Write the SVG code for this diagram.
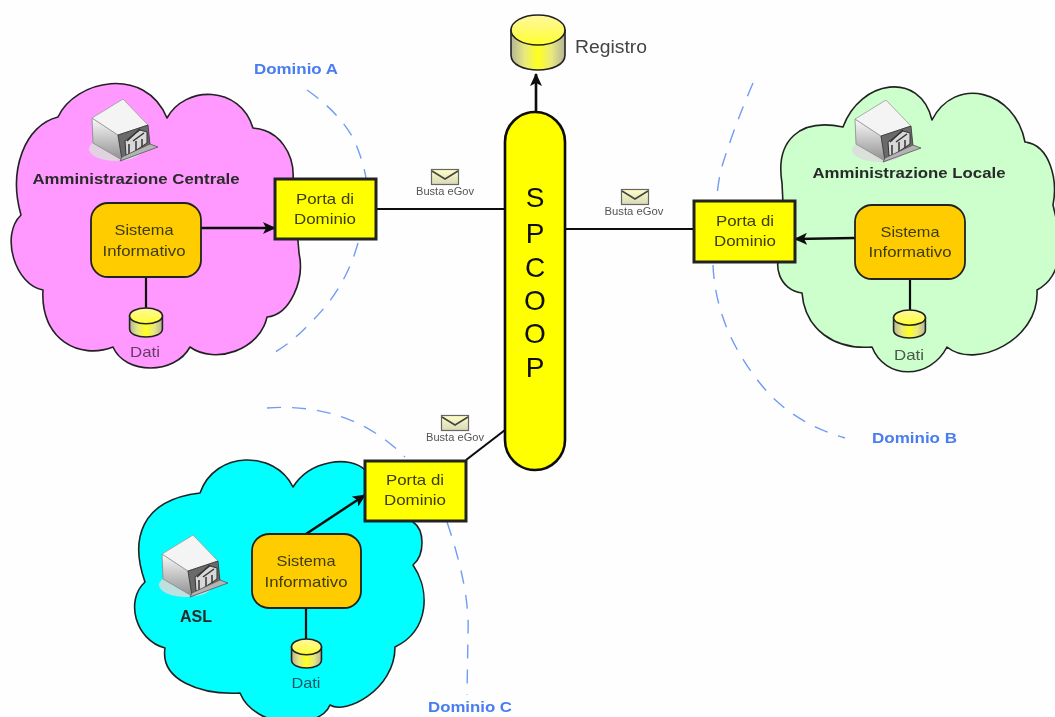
<svg xmlns="http://www.w3.org/2000/svg" width="1055" height="717" viewBox="0 0 1055 717">
<style>
.cloud{stroke:#222;stroke-width:1.6;stroke-linejoin:round}
.porta{fill:#ff0;stroke:#222;stroke-width:3}
.si{fill:#fc0;stroke:#222;stroke-width:1.8}
.conn{fill:none;stroke:#111;stroke-width:2.6}
.thin{fill:none;stroke:#111;stroke-width:2.2}
.dash{fill:none;stroke:#6f9cf5;stroke-width:1.4;stroke-dasharray:14 11}
text{font-family:"Liberation Sans",Arial,sans-serif}
.lab{font-size:15px;fill:#3c3c10;text-anchor:middle}
.bold{font-size:15px;font-weight:bold;fill:#2a2a2a;text-anchor:middle}
.dom{font-size:14.5px;font-weight:bold;fill:#4a7df0}
.busta{font-size:10px;fill:#555;text-anchor:middle}
.dati{font-size:15px;text-anchor:middle}
.soft{filter:url(#soft)}
</style>
<defs>
<filter id="soft" x="-5%" y="-5%" width="110%" height="110%"><feGaussianBlur stdDeviation="0.5"/></filter>
<marker id="arrow" markerUnits="userSpaceOnUse" markerWidth="14" markerHeight="12" refX="12" refY="6" orient="auto"><path d="M0,0 L13,6 L0,12 L3,6 Z" fill="#111"/></marker>
<linearGradient id="cylTop" x1="0" y1="0" x2="0" y2="1"><stop offset="0" stop-color="#fff7a0"/><stop offset="1" stop-color="#ffff30"/></linearGradient>
<linearGradient id="cylSide" x1="0" y1="0" x2="1" y2="0"><stop offset="0" stop-color="#b4b498"/><stop offset=".25" stop-color="#e8e880"/><stop offset=".5" stop-color="#ffff20"/><stop offset=".75" stop-color="#e8e880"/><stop offset="1" stop-color="#b4b498"/></linearGradient>
<linearGradient id="srvLeft" x1="0" y1="0" x2="0" y2="1"><stop offset="0" stop-color="#fafafa"/><stop offset="1" stop-color="#909090"/></linearGradient>
<linearGradient id="env" x1="0" y1="0" x2="0" y2="1"><stop offset="0" stop-color="#ffffc8"/><stop offset="1" stop-color="#d8d8b8"/></linearGradient>
<symbol id="cyl" viewBox="0 0 56 55" preserveAspectRatio="none" overflow="visible">
<path d="M1,15 V40 C1,60 55,60 55,40 V15 Z" fill="url(#cylSide)" stroke="#222" stroke-width="1.6" vector-effect="non-scaling-stroke"/>
<ellipse cx="28" cy="15" rx="27" ry="15" fill="url(#cylTop)" stroke="#222" stroke-width="1.6" vector-effect="non-scaling-stroke"/>
</symbol>
<g id="server">
<ellipse cx="24" cy="50" rx="27" ry="12" fill="#dcdcdc" opacity=".85"/>
<path d="M0,19 L26,36 L30,61 L1,44 Z" fill="url(#srvLeft)" stroke="#888" stroke-width=".8"/>
<path d="M31,0 L0,19 L26,36 L56,26 Z" fill="#f4f4f4" stroke="#999" stroke-width=".8"/>
<path d="M26,36 L56,26 L58,46 L30,61 Z" fill="#6a6a6a" stroke="#333" stroke-width=".8"/>
<path d="M33,42 L48,31 L55,33 L55,44 L40,54 L34,56 Z" fill="#d8d8d8" stroke="#333" stroke-width="1"/>
<path d="M35,42 L48,30 M41,42 L52,34 M37,45 V57 M44,42 V52 M50,40 V48" fill="none" stroke="#333" stroke-width="1.5"/>
<path d="M28,62 L66,48 L58,45 L30,58 Z" fill="#b4b4b4" stroke="#555" stroke-width=".8"/>
</g>
<g id="envelope">
<rect x=".5" y=".5" width="27" height="15" fill="url(#env)" stroke="#666" stroke-width="1.2"/>
<path d="M1,2 L14,10 L27,2" fill="none" stroke="#444" stroke-width="1.5"/>
</g>
</defs>
<rect id="background" width="1055" height="717" fill="#fefefe"/>
<g class="soft">
<g id="domain-arcs">
<path class="dash" d="M307,90 Q340,113 354,140 Q363,160 366,178"/>
<path class="dash" d="M358,243 Q345,290 310,323 Q292,343 270,355"/>
<path class="dash" d="M753,83 Q735,125 723,163 Q718,180 717,197"/>
<path class="dash" d="M713,265 Q716,335 770,395 Q800,425 845,438"/>
<path class="dash" d="M267,408 Q350,402 405,457"/>
<path class="dash" d="M447,522 Q470,590 468,633 L467,695"/>
</g>
<g id="cloud-a"><path class="cloud" fill="#ff99ff" d="M21,215 C8,170 25,125 58,117 C75,80 145,65 167,118 C185,85 240,85 253,128 C280,130 295,155 293,180 L299,253 C305,280 290,315 267,317 C260,350 215,365 190,347 C175,375 125,375 113,347 C80,360 40,340 43,290 C15,285 0,235 21,215 Z"/></g>
<g id="cloud-b"><path class="cloud" fill="#ccffcc" d="M782,183 C775,140 800,118 843,127 C860,80 920,70 932,120 C955,75 1015,90 1025,142 C1050,145 1058,180 1053,205 C1062,240 1065,275 1037,290 C1040,340 975,370 947,347 C930,380 885,380 872,347 C835,350 805,330 802,293 C780,290 770,265 785,245 Z"/></g>
<g id="cloud-c"><path class="cloud" fill="#00ffff" d="M145,582 C130,540 140,500 200,493 C215,450 275,450 293,487 C310,460 350,455 365,470 L413,522 C425,530 425,555 413,565 C430,590 430,630 395,647 C395,690 345,715 330,705 C320,730 255,730 240,693 C200,695 160,680 165,648 C135,640 125,600 145,582 Z"/></g>
<g id="connectors">
<line class="conn" x1="201" y1="228" x2="275" y2="228" marker-end="url(#arrow)"/>
<line class="thin" x1="146" y1="277" x2="146" y2="309"/>
<line class="thin" x1="376" y1="209" x2="505" y2="209"/>
<line class="conn" x1="536" y1="112" x2="536" y2="74" marker-end="url(#arrow)"/>
<line class="thin" x1="565" y1="229" x2="694" y2="229"/>
<line class="conn" x1="855" y1="238" x2="795" y2="239" marker-end="url(#arrow)"/>
<line class="thin" x1="910" y1="279" x2="910" y2="311"/>
<line class="thin" x1="466" y1="460" x2="505" y2="430"/>
<line class="conn" x1="306" y1="534" x2="365" y2="495" marker-end="url(#arrow)"/>
<line class="thin" x1="306" y1="608" x2="306" y2="640"/>
</g>
<g id="server-a"><use href="#server" x="92" y="99"/></g>
<g id="server-b"><use href="#server" x="855" y="100"/></g>
<g id="server-c"><use href="#server" x="162" y="535"/></g>
<g id="sistema-a"><rect class="si" x="91" y="203" width="110" height="74" rx="17"/></g>
<g id="sistema-b"><rect class="si" x="855" y="205" width="110" height="74" rx="17"/></g>
<g id="sistema-c"><rect class="si" x="252" y="534" width="109" height="74" rx="17"/></g>
<g id="porta-a"><rect class="porta" x="275" y="179" width="101" height="60"/></g>
<g id="porta-b"><rect class="porta" x="694" y="201" width="101" height="61"/></g>
<g id="porta-c"><rect class="porta" x="365" y="461" width="101" height="60"/></g>
<g id="spcoop"><rect x="505" y="112" width="60" height="358" rx="30" fill="#ff0" stroke="#111" stroke-width="2.6"/></g>
<g id="registro"><use href="#cyl" x="510" y="15" width="56" height="55"/></g>
<g id="dati-a"><use href="#cyl" x="129" y="308" width="34" height="29"/></g>
<g id="dati-b"><use href="#cyl" x="893" y="310" width="33" height="28"/></g>
<g id="dati-c"><use href="#cyl" x="291" y="639" width="31" height="29"/></g>
<g id="envelopes">
<use href="#envelope" x="431" y="169"/>
<use href="#envelope" x="621" y="189"/>
<use href="#envelope" x="441" y="415"/>
</g>
</g>
<g id="labels" style="filter:url(#soft)">
<text class="dom" x="254" y="74" textLength="84" lengthAdjust="spacingAndGlyphs">Dominio A</text>
<text class="dom" x="872" y="443" textLength="85" lengthAdjust="spacingAndGlyphs">Dominio B</text>
<text class="dom" x="428" y="712" textLength="84" lengthAdjust="spacingAndGlyphs">Dominio C</text>
<text x="575" y="53" font-size="18" fill="#444" textLength="72" lengthAdjust="spacingAndGlyphs">Registro</text>
<text class="bold" x="136" y="184" textLength="207" lengthAdjust="spacingAndGlyphs">Amministrazione Centrale</text>
<text class="bold" x="909" y="178" textLength="193" lengthAdjust="spacingAndGlyphs">Amministrazione Locale</text>
<text class="bold" x="196" y="622" style="font-size:16px" textLength="32" lengthAdjust="spacingAndGlyphs">ASL</text>
<text class="lab" x="144" y="235" textLength="59" lengthAdjust="spacingAndGlyphs">Sistema</text>
<text class="lab" x="144" y="256" textLength="83" lengthAdjust="spacingAndGlyphs">Informativo</text>
<text class="lab" x="910" y="237" textLength="59" lengthAdjust="spacingAndGlyphs">Sistema</text>
<text class="lab" x="910" y="257" textLength="83" lengthAdjust="spacingAndGlyphs">Informativo</text>
<text class="lab" x="306" y="566" textLength="59" lengthAdjust="spacingAndGlyphs">Sistema</text>
<text class="lab" x="306" y="587" textLength="83" lengthAdjust="spacingAndGlyphs">Informativo</text>
<text class="lab" x="325" y="204" textLength="58" lengthAdjust="spacingAndGlyphs">Porta di</text>
<text class="lab" x="325" y="224" textLength="62" lengthAdjust="spacingAndGlyphs">Dominio</text>
<text class="lab" x="745" y="226" textLength="58" lengthAdjust="spacingAndGlyphs">Porta di</text>
<text class="lab" x="745" y="246" textLength="62" lengthAdjust="spacingAndGlyphs">Dominio</text>
<text class="lab" x="415" y="485" textLength="58" lengthAdjust="spacingAndGlyphs">Porta di</text>
<text class="lab" x="415" y="505" textLength="62" lengthAdjust="spacingAndGlyphs">Dominio</text>
<text class="dati" x="145" y="357" fill="#663a66" textLength="30" lengthAdjust="spacingAndGlyphs">Dati</text>
<text class="dati" x="909" y="360" fill="#4a5a4a" textLength="30" lengthAdjust="spacingAndGlyphs">Dati</text>
<text class="dati" x="306" y="688" fill="#1a5560" textLength="29" lengthAdjust="spacingAndGlyphs">Dati</text>
<text class="busta" x="445" y="195" textLength="58" lengthAdjust="spacingAndGlyphs">Busta eGov</text>
<text class="busta" x="634" y="215" textLength="59" lengthAdjust="spacingAndGlyphs">Busta eGov</text>
<text class="busta" x="455" y="441" textLength="58" lengthAdjust="spacingAndGlyphs">Busta eGov</text>
<g font-size="28" fill="#111" text-anchor="middle">
<text x="535" y="207">S</text>
<text x="535" y="243">P</text>
<text x="535" y="277">C</text>
<text x="535" y="310">O</text>
<text x="535" y="343">O</text>
<text x="535" y="377">P</text>
</g>
</g>
</svg>
